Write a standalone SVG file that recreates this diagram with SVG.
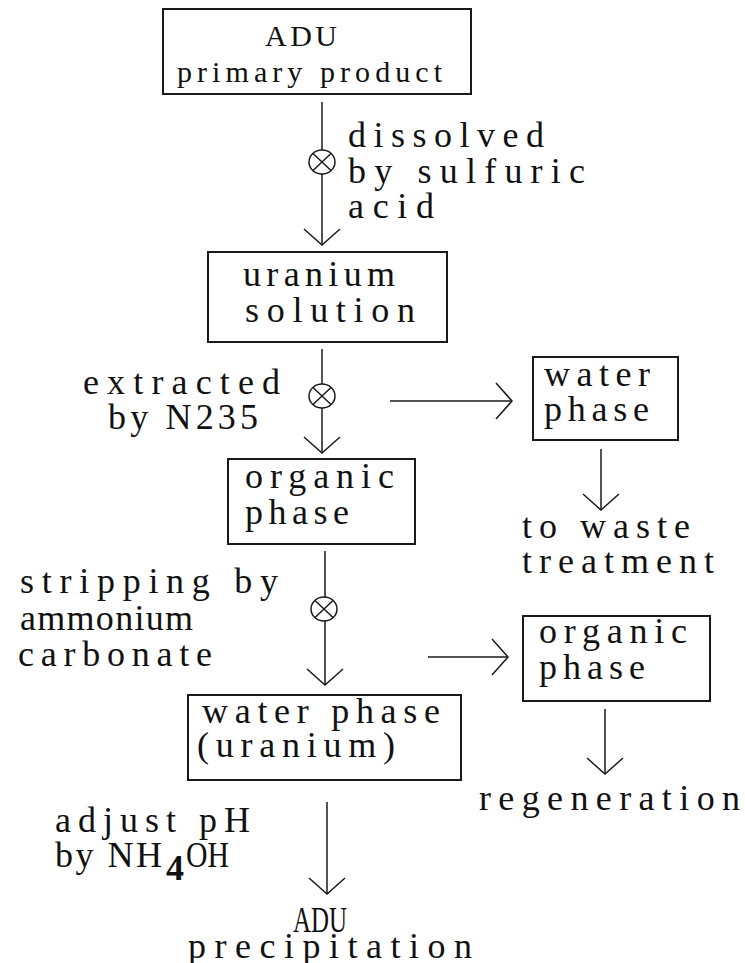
<svg xmlns="http://www.w3.org/2000/svg" width="745" height="963" viewBox="0 0 745 963">
<style>
.box{fill:#fff;stroke:#1a1a1a;stroke-width:2}
.ln{fill:none;stroke:#1a1a1a;stroke-width:1.5}
.t{font-family:"Liberation Serif","Times New Roman",serif;font-size:36px;fill:#111}
.t1{font-family:"Liberation Serif","Times New Roman",serif;font-size:30px;fill:#111}
.mix{fill:none;stroke:#1a1a1a;stroke-width:1.5}
</style>
<defs>
<marker id="arr" markerUnits="userSpaceOnUse" markerWidth="40" markerHeight="40" refX="0" refY="0" orient="auto" viewBox="-20 -20 40 40" overflow="visible">
<path d="M -16 -18 L 0 0 L -16 18" fill="none" stroke="#1a1a1a" stroke-width="1.5"/>
</marker>
<g id="mixer">
<ellipse cx="0" cy="0" rx="13" ry="12" class="mix"/>
<path d="M -9 -8.5 L 9 8.5 M 9 -8.5 L -9 8.5" class="mix"/>
</g>
</defs>
<rect width="745" height="963" fill="#fff"/>

<g id="n1">
<rect class="box" x="163" y="9" width="308" height="85"/>
<text class="t1" x="265" y="46" textLength="72" lengthAdjust="spacing">ADU</text>
<text class="t1" x="177" y="82" textLength="265" lengthAdjust="spacing">primary product</text>
</g>

<g id="n2">
<rect class="box" x="208" y="252" width="239" height="90"/>
<text class="t" x="243" y="286" textLength="152" lengthAdjust="spacing">uranium</text>
<text class="t" x="245" y="322" textLength="170" lengthAdjust="spacing">solution</text>
</g>

<g id="n3">
<rect class="box" x="228" y="459" width="187" height="85"/>
<text class="t" x="245" y="488" textLength="149" lengthAdjust="spacing">organic</text>
<text class="t" x="245" y="524" textLength="104" lengthAdjust="spacing">phase</text>
</g>

<g id="n4">
<rect class="box" x="533" y="357" width="145" height="83"/>
<text class="t" x="544" y="386" textLength="106" lengthAdjust="spacing">water</text>
<text class="t" x="544" y="421" textLength="105" lengthAdjust="spacing">phase</text>
</g>

<g id="n5">
<rect class="box" x="523" y="616" width="187" height="85"/>
<text class="t" x="539" y="643" textLength="148" lengthAdjust="spacing">organic</text>
<text class="t" x="539" y="679" textLength="106" lengthAdjust="spacing">phase</text>
</g>

<g id="n6">
<rect class="box" x="188" y="695" width="273" height="85"/>
<text class="t" x="202" y="723" textLength="238" lengthAdjust="spacing">water phase</text>
<text class="t" x="197" y="757" textLength="198" lengthAdjust="spacing">(uranium)</text>
</g>

<g id="n7">
<text class="t" x="522" y="538" textLength="168" lengthAdjust="spacing">to waste</text>
<text class="t" x="522" y="573" textLength="192" lengthAdjust="spacing">treatment</text>
</g>

<g id="n8">
<text class="t" x="479" y="810" textLength="261" lengthAdjust="spacing">regeneration</text>
</g>

<g id="n9">
<text class="t" x="293" y="932" textLength="54" lengthAdjust="spacingAndGlyphs">ADU</text>
<text class="t" x="188" y="958" textLength="284" lengthAdjust="spacing">precipitation</text>
</g>

<g id="labels">
<text class="t" x="348" y="147" textLength="196" lengthAdjust="spacing">dissolved</text>
<text class="t" x="348" y="183" textLength="237" lengthAdjust="spacing">by sulfuric</text>
<text class="t" x="348" y="218" textLength="86" lengthAdjust="spacing">acid</text>
<text class="t" x="83" y="394" textLength="197" lengthAdjust="spacing">extracted</text>
<text class="t" x="108" y="429" textLength="150" lengthAdjust="spacing">by N235</text>
<text class="t" x="20" y="593" textLength="258" lengthAdjust="spacing">stripping by</text>
<text class="t" x="20" y="630" textLength="173" lengthAdjust="spacing">ammonium</text>
<text class="t" x="18" y="666" textLength="194" lengthAdjust="spacing">carbonate</text>
<text class="t" x="55" y="832" textLength="195" lengthAdjust="spacing">adjust pH</text>
<text class="t" x="55" y="867" textLength="107" lengthAdjust="spacing">by NH</text>
<text class="t" x="166" y="880" font-weight="bold" font-size="28">4</text>
<text class="t" x="186" y="867" textLength="43" lengthAdjust="spacingAndGlyphs">OH</text>
</g>

<g id="connectors">
<line class="ln" x1="322" y1="102" x2="322" y2="150"/>
<use href="#mixer" x="322" y="162"/>
<line class="ln" x1="322" y1="174" x2="322" y2="245" marker-end="url(#arr)"/>

<line class="ln" x1="322" y1="349" x2="322" y2="384"/>
<use href="#mixer" x="322" y="396"/>
<line class="ln" x1="322" y1="408" x2="322" y2="453" marker-end="url(#arr)"/>

<line class="ln" x1="390" y1="401" x2="512" y2="401" marker-end="url(#arr)"/>
<line class="ln" x1="601" y1="449" x2="601" y2="510" marker-end="url(#arr)"/>

<line class="ln" x1="325" y1="551" x2="325" y2="597"/>
<use href="#mixer" x="324" y="609"/>
<line class="ln" x1="325" y1="621" x2="325" y2="685" marker-end="url(#arr)"/>

<line class="ln" x1="428" y1="657" x2="508" y2="657" marker-end="url(#arr)"/>
<line class="ln" x1="605" y1="709" x2="605" y2="774" marker-end="url(#arr)"/>

<line class="ln" x1="327" y1="802" x2="327" y2="894" marker-end="url(#arr)"/>
</g>
</svg>
